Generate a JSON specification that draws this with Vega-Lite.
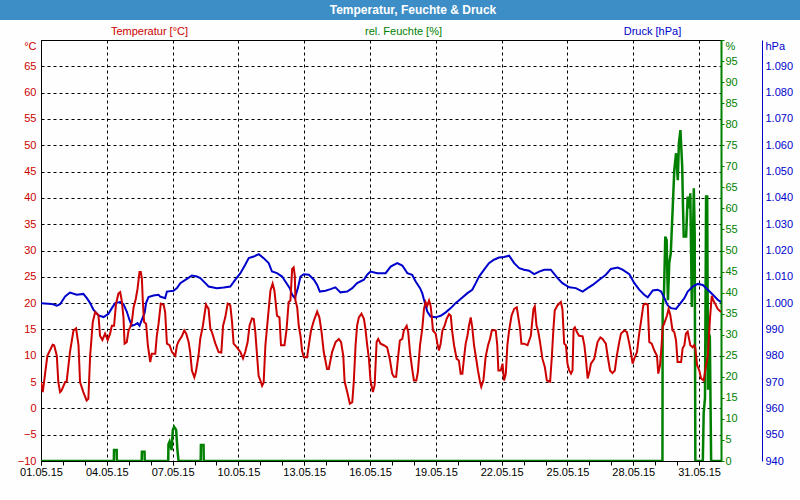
{
  "$schema": "https://vega.github.io/schema/vega-lite/v6.json",
  "background": "#fdfefd",
  "padding": {"left": 0, "right": 0, "top": 0, "bottom": 20},
  "config": {
    "font": "Liberation Sans",
    "axis": {"labelFont": "Liberation Sans", "titleFont": "Liberation Sans", "labelFontSize": 11, "titleFontSize": 11, "titleFontWeight": "normal", "labelOverlap": false}
  },
  "datasets": {
    "temperature": [
      {"time":"2015-05-01T00:00","value":5.0},{"time":"2015-05-01T01:55","value":3.1},{"time":"2015-05-01T06:58","value":10.0},{"time":"2015-05-01T12:43","value":12.1},{"time":"2015-05-01T14:24","value":12.0},{"time":"2015-05-01T17:17","value":10.0},{"time":"2015-05-01T18:58","value":5.0},{"time":"2015-05-01T20:53","value":3.1},{"time":"2015-05-01T22:34","value":3.4},
      {"time":"2015-05-02T02:24","value":5.0},{"time":"2015-05-02T04:05","value":5.1},{"time":"2015-05-02T07:41","value":10.7},{"time":"2015-05-02T11:31","value":14.8},{"time":"2015-05-02T14:24","value":15.2},{"time":"2015-05-02T17:02","value":12.0},{"time":"2015-05-02T18:43","value":5.0},{"time":"2015-05-02T22:19","value":3.1},
      {"time":"2015-05-03T01:55","value":1.5},{"time":"2015-05-03T03:50","value":1.8},{"time":"2015-05-03T05:46","value":10.0},{"time":"2015-05-03T08:38","value":16.4},{"time":"2015-05-03T11:17","value":18.3},{"time":"2015-05-03T14:53","value":17.7},{"time":"2015-05-03T16:34","value":13.8},{"time":"2015-05-03T19:12","value":13.0},{"time":"2015-05-03T22:05","value":14.2},
      {"time":"2015-05-04T00:58","value":13.0},{"time":"2015-05-04T03:36","value":14.2},{"time":"2015-05-04T05:31","value":15.7},{"time":"2015-05-04T07:55","value":15.7},{"time":"2015-05-04T10:05","value":19.9},{"time":"2015-05-04T12:43","value":21.8},{"time":"2015-05-04T14:38","value":22.1},{"time":"2015-05-04T16:19","value":20.5},{"time":"2015-05-04T18:14","value":17.3},{"time":"2015-05-04T19:26","value":12.3},{"time":"2015-05-04T21:50","value":12.6},{"time":"2015-05-04T23:46","value":14.8},
      {"time":"2015-05-05T01:26","value":15.4},{"time":"2015-05-05T03:22","value":16.4},{"time":"2015-05-05T05:17","value":19.2},{"time":"2015-05-05T07:41","value":20.8},{"time":"2015-05-05T09:36","value":22.7},{"time":"2015-05-05T11:46","value":25.9},{"time":"2015-05-05T13:12","value":25.9},{"time":"2015-05-05T14:24","value":24.6},{"time":"2015-05-05T15:22","value":20.5},{"time":"2015-05-05T16:48","value":16.4},{"time":"2015-05-05T18:58","value":16.1},{"time":"2015-05-05T20:53","value":12.0},{"time":"2015-05-05T23:31","value":8.8},
      {"time":"2015-05-06T01:12","value":10.4},{"time":"2015-05-06T05:02","value":10.4},{"time":"2015-05-06T06:43","value":13.8},{"time":"2015-05-06T08:38","value":16.1},{"time":"2015-05-06T11:02","value":19.9},{"time":"2015-05-06T14:10","value":19.7},{"time":"2015-05-06T15:50","value":18.3},{"time":"2015-05-06T17:46","value":12.3},{"time":"2015-05-06T20:38","value":12.0},{"time":"2015-05-06T23:17","value":10.7},
      {"time":"2015-05-07T02:53","value":10.0},{"time":"2015-05-07T04:48","value":12.0},{"time":"2015-05-07T06:29","value":12.7},{"time":"2015-05-07T10:05","value":13.7},{"time":"2015-05-07T12:43","value":14.8},{"time":"2015-05-07T14:53","value":14.2},{"time":"2015-05-07T17:31","value":12.6},{"time":"2015-05-07T19:12","value":10.7},{"time":"2015-05-07T21:07","value":7.2},{"time":"2015-05-07T23:46","value":5.9},
      {"time":"2015-05-08T01:26","value":6.9},{"time":"2015-05-08T04:19","value":10.0},{"time":"2015-05-08T06:14","value":13.2},{"time":"2015-05-08T09:07","value":15.7},{"time":"2015-05-08T12:29","value":19.7},{"time":"2015-05-08T15:22","value":18.9},{"time":"2015-05-08T17:17","value":15.1},{"time":"2015-05-08T18:58","value":14.5},{"time":"2015-05-08T22:48","value":12.3},
      {"time":"2015-05-09T02:24","value":10.7},{"time":"2015-05-09T05:17","value":10.6},{"time":"2015-05-09T07:12","value":15.7},{"time":"2015-05-09T09:36","value":17.3},{"time":"2015-05-09T12:14","value":19.9},{"time":"2015-05-09T15:07","value":19.6},{"time":"2015-05-09T17:02","value":16.4},{"time":"2015-05-09T18:43","value":12.3},{"time":"2015-05-09T22:19","value":11.6},
      {"time":"2015-05-10T02:10","value":10.7},{"time":"2015-05-10T05:02","value":9.5},{"time":"2015-05-10T07:26","value":10.7},{"time":"2015-05-10T10:05","value":12.6},{"time":"2015-05-10T12:14","value":15.8},{"time":"2015-05-10T14:53","value":17.1},{"time":"2015-05-10T16:48","value":17.0},{"time":"2015-05-10T18:29","value":14.5},{"time":"2015-05-10T20:24","value":10.0},{"time":"2015-05-10T22:05","value":6.2},
      {"time":"2015-05-11T00:00","value":5.3},{"time":"2015-05-11T01:55","value":4.3},{"time":"2015-05-11T03:36","value":4.9},{"time":"2015-05-11T05:31","value":12.0},{"time":"2015-05-11T08:10","value":17.0},{"time":"2015-05-11T11:02","value":22.4},{"time":"2015-05-11T13:26","value":23.7},{"time":"2015-05-11T15:22","value":22.4},{"time":"2015-05-11T18:14","value":17.6},{"time":"2015-05-11T20:53","value":17.3},{"time":"2015-05-11T22:34","value":12.0},
      {"time":"2015-05-12T02:24","value":12.0},{"time":"2015-05-12T04:34","value":14.8},{"time":"2015-05-12T06:58","value":20.2},{"time":"2015-05-12T08:53","value":20.5},{"time":"2015-05-12T10:48","value":26.5},{"time":"2015-05-12T12:29","value":26.8},{"time":"2015-05-12T13:41","value":25.2},{"time":"2015-05-12T14:24","value":20.5},{"time":"2015-05-12T16:19","value":19.2},{"time":"2015-05-12T18:00","value":15.7},{"time":"2015-05-12T19:55","value":13.8},{"time":"2015-05-12T21:36","value":11.0},{"time":"2015-05-12T23:31","value":9.7},
      {"time":"2015-05-13T03:07","value":9.7},{"time":"2015-05-13T05:02","value":12.0},{"time":"2015-05-13T07:26","value":14.8},{"time":"2015-05-13T10:34","value":16.7},{"time":"2015-05-13T14:10","value":18.4},{"time":"2015-05-13T16:34","value":17.3},{"time":"2015-05-13T18:58","value":14.5},{"time":"2015-05-13T21:22","value":10.7},
      {"time":"2015-05-14T00:58","value":7.5},{"time":"2015-05-14T02:53","value":7.5},{"time":"2015-05-14T06:29","value":10.7},{"time":"2015-05-14T10:19","value":12.6},{"time":"2015-05-14T13:55","value":13.2},{"time":"2015-05-14T16:19","value":12.6},{"time":"2015-05-14T18:43","value":10.0},{"time":"2015-05-14T20:10","value":5.1},{"time":"2015-05-14T23:02","value":3.1},
      {"time":"2015-05-15T01:55","value":0.9},{"time":"2015-05-15T04:34","value":1.2},{"time":"2015-05-15T06:14","value":5.1},{"time":"2015-05-15T08:10","value":12.0},{"time":"2015-05-15T09:50","value":15.7},{"time":"2015-05-15T11:46","value":17.3},{"time":"2015-05-15T14:38","value":18.0},{"time":"2015-05-15T17:17","value":17.0},{"time":"2015-05-15T18:58","value":15.1},{"time":"2015-05-15T20:53","value":12.0},{"time":"2015-05-15T22:48","value":9.4},
      {"time":"2015-05-16T00:29","value":5.3},{"time":"2015-05-16T03:07","value":3.1},{"time":"2015-05-16T05:02","value":4.4},{"time":"2015-05-16T07:12","value":12.6},{"time":"2015-05-16T08:53","value":13.2},{"time":"2015-05-16T11:31","value":12.3},{"time":"2015-05-16T15:07","value":12.0},{"time":"2015-05-16T18:43","value":11.6},{"time":"2015-05-16T21:36","value":9.4},
      {"time":"2015-05-17T00:14","value":6.6},{"time":"2015-05-17T02:10","value":6.0},{"time":"2015-05-17T04:34","value":6.0},{"time":"2015-05-17T06:29","value":9.4},{"time":"2015-05-17T08:38","value":12.9},{"time":"2015-05-17T11:17","value":13.2},{"time":"2015-05-17T12:58","value":14.8},{"time":"2015-05-17T16:05","value":15.7},{"time":"2015-05-17T17:46","value":14.5},{"time":"2015-05-17T19:41","value":10.7},{"time":"2015-05-17T22:05","value":7.5},
      {"time":"2015-05-18T00:00","value":5.3},{"time":"2015-05-18T02:38","value":5.3},{"time":"2015-05-18T04:19","value":6.9},{"time":"2015-05-18T06:43","value":12.0},{"time":"2015-05-18T09:07","value":15.1},{"time":"2015-05-18T11:02","value":18.9},{"time":"2015-05-18T12:43","value":20.2},{"time":"2015-05-18T14:38","value":19.5},{"time":"2015-05-18T16:34","value":20.5},{"time":"2015-05-18T18:14","value":19.5},{"time":"2015-05-18T19:26","value":17.6},{"time":"2015-05-18T20:53","value":14.8},{"time":"2015-05-18T23:46","value":14.2},
      {"time":"2015-05-19T01:41","value":12.3},{"time":"2015-05-19T03:22","value":11.0},{"time":"2015-05-19T05:17","value":12.3},{"time":"2015-05-19T07:12","value":14.8},{"time":"2015-05-19T09:36","value":15.7},{"time":"2015-05-19T11:46","value":17.0},{"time":"2015-05-19T14:24","value":17.9},{"time":"2015-05-19T16:19","value":17.6},{"time":"2015-05-19T18:00","value":14.5},{"time":"2015-05-19T19:55","value":12.0},{"time":"2015-05-19T22:48","value":9.4},
      {"time":"2015-05-20T01:12","value":9.1},{"time":"2015-05-20T03:07","value":6.6},{"time":"2015-05-20T05:02","value":6.6},{"time":"2015-05-20T06:43","value":9.4},{"time":"2015-05-20T08:38","value":12.3},{"time":"2015-05-20T10:34","value":13.8},{"time":"2015-05-20T12:14","value":15.7},{"time":"2015-05-20T14:10","value":17.3},{"time":"2015-05-20T15:50","value":15.4},{"time":"2015-05-20T17:46","value":12.0},{"time":"2015-05-20T20:24","value":9.1},{"time":"2015-05-20T22:05","value":7.2},
      {"time":"2015-05-21T00:14","value":5.1},{"time":"2015-05-21T01:41","value":4.1},{"time":"2015-05-21T04:05","value":5.4},{"time":"2015-05-21T06:29","value":9.8},{"time":"2015-05-21T09:07","value":12.0},{"time":"2015-05-21T11:17","value":13.2},{"time":"2015-05-21T13:12","value":14.8},{"time":"2015-05-21T15:36","value":14.9},{"time":"2015-05-21T17:31","value":14.8},{"time":"2015-05-21T19:12","value":12.0},{"time":"2015-05-21T20:24","value":7.2},{"time":"2015-05-21T23:02","value":7.2},
      {"time":"2015-05-22T00:58","value":8.5},{"time":"2015-05-22T02:38","value":5.3},{"time":"2015-05-22T04:34","value":6.6},{"time":"2015-05-22T06:14","value":12.0},{"time":"2015-05-22T08:10","value":14.8},{"time":"2015-05-22T10:48","value":17.6},{"time":"2015-05-22T13:41","value":18.9},{"time":"2015-05-22T16:34","value":19.2},{"time":"2015-05-22T18:29","value":17.0},{"time":"2015-05-22T20:10","value":15.1},{"time":"2015-05-22T21:36","value":12.3},
      {"time":"2015-05-23T00:29","value":12.3},{"time":"2015-05-23T04:19","value":12.0},{"time":"2015-05-23T07:55","value":13.8},{"time":"2015-05-23T10:48","value":18.9},{"time":"2015-05-23T12:14","value":19.4},{"time":"2015-05-23T14:10","value":15.7},{"time":"2015-05-23T15:50","value":14.8},{"time":"2015-05-23T18:00","value":12.6},{"time":"2015-05-23T20:38","value":9.4},{"time":"2015-05-23T23:17","value":7.8},
      {"time":"2015-05-24T01:26","value":5.3},{"time":"2015-05-24T05:02","value":5.1},{"time":"2015-05-24T06:58","value":10.0},{"time":"2015-05-24T08:38","value":15.1},{"time":"2015-05-24T10:05","value":18.6},{"time":"2015-05-24T13:12","value":19.6},{"time":"2015-05-24T16:48","value":20.2},{"time":"2015-05-24T18:29","value":18.9},{"time":"2015-05-24T20:24","value":12.3},{"time":"2015-05-24T22:19","value":12.0},
      {"time":"2015-05-25T00:00","value":8.5},{"time":"2015-05-25T01:55","value":7.2},{"time":"2015-05-25T03:50","value":6.6},{"time":"2015-05-25T05:31","value":7.2},{"time":"2015-05-25T06:43","value":15.1},{"time":"2015-05-25T08:10","value":15.4},{"time":"2015-05-25T10:19","value":14.5},{"time":"2015-05-25T12:43","value":13.8},{"time":"2015-05-25T16:34","value":13.7},{"time":"2015-05-25T18:29","value":12.0},{"time":"2015-05-25T20:10","value":9.4},{"time":"2015-05-25T22:05","value":5.7},
      {"time":"2015-05-26T00:00","value":6.9},{"time":"2015-05-26T01:41","value":8.5},{"time":"2015-05-26T05:17","value":9.4},{"time":"2015-05-26T08:53","value":12.6},{"time":"2015-05-26T12:00","value":13.5},{"time":"2015-05-26T14:24","value":13.2},{"time":"2015-05-26T18:00","value":12.3},{"time":"2015-05-26T19:55","value":10.0},{"time":"2015-05-26T22:34","value":7.2},
      {"time":"2015-05-27T01:12","value":6.7},{"time":"2015-05-27T03:50","value":7.2},{"time":"2015-05-27T06:00","value":10.0},{"time":"2015-05-27T08:38","value":12.6},{"time":"2015-05-27T10:34","value":14.2},{"time":"2015-05-27T14:10","value":14.8},{"time":"2015-05-27T17:02","value":14.5},{"time":"2015-05-27T19:41","value":12.3},{"time":"2015-05-27T21:22","value":10.7},{"time":"2015-05-27T23:17","value":8.5},
      {"time":"2015-05-28T00:58","value":9.4},{"time":"2015-05-28T04:05","value":10.7},{"time":"2015-05-28T06:29","value":14.2},{"time":"2015-05-28T08:24","value":16.4},{"time":"2015-05-28T11:02","value":19.6},{"time":"2015-05-28T12:58","value":19.9},{"time":"2015-05-28T15:50","value":19.7},{"time":"2015-05-28T17:31","value":12.6},{"time":"2015-05-28T20:10","value":12.3},{"time":"2015-05-28T23:02","value":11.0},
      {"time":"2015-05-29T01:55","value":10.0},{"time":"2015-05-29T03:22","value":6.6},{"time":"2015-05-29T05:17","value":8.2},{"time":"2015-05-29T06:58","value":12.0},{"time":"2015-05-29T08:10","value":15.5},{"time":"2015-05-29T09:50","value":16.1},{"time":"2015-05-29T12:58","value":17.7},{"time":"2015-05-29T14:38","value":18.9},{"time":"2015-05-29T16:34","value":17.7},{"time":"2015-05-29T18:58","value":14.8},{"time":"2015-05-29T20:53","value":14.5},{"time":"2015-05-29T22:48","value":12.9},
      {"time":"2015-05-30T00:29","value":8.8},{"time":"2015-05-30T04:19","value":8.8},{"time":"2015-05-30T06:00","value":11.4},{"time":"2015-05-30T07:55","value":12.0},{"time":"2015-05-30T09:36","value":14.2},{"time":"2015-05-30T11:31","value":14.6},{"time":"2015-05-30T12:43","value":13.5},{"time":"2015-05-30T14:24","value":12.0},{"time":"2015-05-30T17:02","value":11.6},{"time":"2015-05-30T18:43","value":12.0},{"time":"2015-05-30T19:55","value":11.4},{"time":"2015-05-30T21:50","value":8.2},
      {"time":"2015-05-31T00:14","value":7.2},{"time":"2015-05-31T02:10","value":5.7},{"time":"2015-05-31T05:02","value":5.3},{"time":"2015-05-31T07:41","value":8.2},{"time":"2015-05-31T09:36","value":10.0},{"time":"2015-05-31T12:00","value":17.3},{"time":"2015-05-31T13:55","value":21.4},{"time":"2015-05-31T15:36","value":20.5},{"time":"2015-05-31T17:31","value":19.9},{"time":"2015-05-31T20:24","value":18.9},{"time":"2015-05-31T23:59","value":18.3}
    ],
    "humidity": [
      {"time":"2015-05-01T00:00","value":0},{"time":"2015-05-04T07:41","value":0},{"time":"2015-05-04T07:55","value":2.6},{"time":"2015-05-04T10:48","value":2.6},{"time":"2015-05-04T11:02","value":0},
      {"time":"2015-05-05T14:10","value":0},{"time":"2015-05-05T14:24","value":2.2},{"time":"2015-05-05T17:17","value":2.2},{"time":"2015-05-05T17:31","value":0},
      {"time":"2015-05-06T19:12","value":0},{"time":"2015-05-06T19:26","value":4.0},{"time":"2015-05-06T20:38","value":4.6},{"time":"2015-05-06T22:48","value":2.6},{"time":"2015-05-07T00:14","value":7.4},{"time":"2015-05-07T01:41","value":8.1},{"time":"2015-05-07T03:50","value":7.4},{"time":"2015-05-07T05:17","value":2.6},{"time":"2015-05-07T06:29","value":0},
      {"time":"2015-05-08T06:43","value":0},{"time":"2015-05-08T06:58","value":3.8},{"time":"2015-05-08T09:50","value":3.8},{"time":"2015-05-08T10:05","value":0},
      {"time":"2015-05-29T07:55","value":0},{"time":"2015-05-29T08:10","value":36.6},{"time":"2015-05-29T09:36","value":39.9},{"time":"2015-05-29T11:02","value":53.3},{"time":"2015-05-29T12:29","value":52.5},{"time":"2015-05-29T13:55","value":38.2},{"time":"2015-05-29T15:22","value":47.0},{"time":"2015-05-29T17:02","value":49.4},{"time":"2015-05-29T19:12","value":60.4},{"time":"2015-05-29T20:53","value":69.1},{"time":"2015-05-29T22:48","value":73.1},
      {"time":"2015-05-30T00:43","value":66.7},{"time":"2015-05-30T01:55","value":75.5},{"time":"2015-05-30T03:36","value":78.6},{"time":"2015-05-30T05:31","value":70.0},{"time":"2015-05-30T06:14","value":62.0},{"time":"2015-05-30T07:12","value":53.3},{"time":"2015-05-30T09:50","value":53.3},{"time":"2015-05-30T11:31","value":62.8},{"time":"2015-05-30T13:26","value":60.0},{"time":"2015-05-30T14:24","value":63.6},{"time":"2015-05-30T16:05","value":36.6},{"time":"2015-05-30T18:14","value":64.8},{"time":"2015-05-30T19:12","value":54.0},{"time":"2015-05-30T19:55","value":0},
      {"time":"2015-05-31T04:05","value":0},{"time":"2015-05-31T05:02","value":11.4},{"time":"2015-05-31T06:29","value":15.0},{"time":"2015-05-31T07:41","value":62.8},{"time":"2015-05-31T08:53","value":62.8},{"time":"2015-05-31T09:50","value":16.9},{"time":"2015-05-31T10:34","value":30.4},{"time":"2015-05-31T11:46","value":29.5},{"time":"2015-05-31T13:12","value":0},{"time":"2015-05-31T23:59","value":0}
    ],
    "pressure": [
      {"time":"2015-05-01T00:00","value":1000.0},{"time":"2015-05-01T11:46","value":999.7},{"time":"2015-05-01T17:17","value":999.0},{"time":"2015-05-01T20:53","value":999.6},
      {"time":"2015-05-02T02:24","value":1002.5},{"time":"2015-05-02T07:41","value":1004.0},{"time":"2015-05-02T15:07","value":1003.2},{"time":"2015-05-02T22:19","value":1003.5},
      {"time":"2015-05-03T02:10","value":1001.9},{"time":"2015-05-03T05:46","value":1000.0},{"time":"2015-05-03T09:22","value":997.5},{"time":"2015-05-03T14:53","value":995.3},{"time":"2015-05-03T20:24","value":994.7},
      {"time":"2015-05-04T01:41","value":995.9},{"time":"2015-05-04T05:31","value":998.1},{"time":"2015-05-04T09:07","value":1000.0},{"time":"2015-05-04T14:38","value":1000.4},{"time":"2015-05-04T18:14","value":999.6},{"time":"2015-05-04T21:50","value":996.8},
      {"time":"2015-05-05T00:43","value":993.7},{"time":"2015-05-05T03:22","value":991.4},{"time":"2015-05-05T06:58","value":991.8},{"time":"2015-05-05T09:36","value":992.4},{"time":"2015-05-05T11:46","value":991.4},{"time":"2015-05-05T14:24","value":993.7},{"time":"2015-05-05T17:17","value":996.2},{"time":"2015-05-05T18:58","value":1000.0},{"time":"2015-05-05T21:36","value":1002.3},
      {"time":"2015-05-06T03:07","value":1002.9},{"time":"2015-05-06T08:38","value":1003.2},{"time":"2015-05-06T10:19","value":1002.5},{"time":"2015-05-06T15:50","value":1001.9},{"time":"2015-05-06T17:46","value":1004.4},
      {"time":"2015-05-07T00:58","value":1004.7},{"time":"2015-05-07T04:48","value":1005.7},{"time":"2015-05-07T08:24","value":1007.6},{"time":"2015-05-07T15:36","value":1009.2},{"time":"2015-05-07T21:07","value":1010.5},
      {"time":"2015-05-08T02:38","value":1010.1},{"time":"2015-05-08T06:14","value":1009.5},{"time":"2015-05-08T11:46","value":1007.6},{"time":"2015-05-08T15:22","value":1006.3},
      {"time":"2015-05-09T00:29","value":1005.7},{"time":"2015-05-09T07:55","value":1005.9},{"time":"2015-05-09T15:07","value":1006.3},{"time":"2015-05-09T20:38","value":1008.9},
      {"time":"2015-05-10T02:10","value":1011.4},{"time":"2015-05-10T07:26","value":1014.6},{"time":"2015-05-10T11:17","value":1017.1},{"time":"2015-05-10T16:48","value":1017.7},{"time":"2015-05-10T22:19","value":1018.6},
      {"time":"2015-05-11T03:36","value":1017.1},{"time":"2015-05-11T09:07","value":1015.2},{"time":"2015-05-11T12:43","value":1012.0},{"time":"2015-05-11T18:14","value":1011.4},{"time":"2015-05-11T23:46","value":1010.1},
      {"time":"2015-05-12T03:22","value":1008.2},{"time":"2015-05-12T08:10","value":1005.7},{"time":"2015-05-12T10:48","value":1003.2},{"time":"2015-05-12T13:41","value":1001.9},{"time":"2015-05-12T17:02","value":1005.7},{"time":"2015-05-12T19:55","value":1010.1},{"time":"2015-05-12T23:31","value":1011.0},
      {"time":"2015-05-13T05:02","value":1010.8},{"time":"2015-05-13T10:34","value":1008.9},{"time":"2015-05-13T14:10","value":1006.9},{"time":"2015-05-13T17:02","value":1004.4},{"time":"2015-05-13T23:17","value":1004.7},
      {"time":"2015-05-14T04:48","value":1005.3},{"time":"2015-05-14T10:05","value":1006.0},{"time":"2015-05-14T15:36","value":1004.1},{"time":"2015-05-14T23:02","value":1004.4},
      {"time":"2015-05-15T04:34","value":1005.7},{"time":"2015-05-15T09:50","value":1007.6},{"time":"2015-05-15T17:17","value":1008.9},{"time":"2015-05-15T20:53","value":1010.8},
      {"time":"2015-05-16T00:29","value":1012.0},{"time":"2015-05-16T07:55","value":1011.4},{"time":"2015-05-16T17:02","value":1011.4},{"time":"2015-05-16T22:34","value":1013.9},
      {"time":"2015-05-17T05:46","value":1015.2},{"time":"2015-05-17T11:17","value":1014.3},{"time":"2015-05-17T16:48","value":1011.4},{"time":"2015-05-17T22:05","value":1010.8},
      {"time":"2015-05-18T01:55","value":1008.2},{"time":"2015-05-18T06:43","value":1005.7},{"time":"2015-05-18T09:07","value":1003.8},{"time":"2015-05-18T11:02","value":1001.3},{"time":"2015-05-18T14:38","value":996.8},{"time":"2015-05-18T18:14","value":994.9},{"time":"2015-05-18T23:46","value":994.6},
      {"time":"2015-05-19T05:17","value":995.2},{"time":"2015-05-19T10:48","value":996.5},{"time":"2015-05-19T16:19","value":998.1},{"time":"2015-05-19T21:36","value":1000.0},
      {"time":"2015-05-20T03:07","value":1001.6},{"time":"2015-05-20T10:34","value":1003.8},{"time":"2015-05-20T15:50","value":1005.1},{"time":"2015-05-20T19:41","value":1007.6},{"time":"2015-05-20T23:17","value":1010.1},
      {"time":"2015-05-21T04:48","value":1012.7},{"time":"2015-05-21T10:05","value":1015.2},{"time":"2015-05-21T15:36","value":1016.5},{"time":"2015-05-21T21:07","value":1017.3},
      {"time":"2015-05-22T02:38","value":1017.5},{"time":"2015-05-22T08:10","value":1018.0},{"time":"2015-05-22T13:41","value":1015.2},{"time":"2015-05-22T19:12","value":1013.3},
      {"time":"2015-05-23T00:29","value":1012.7},{"time":"2015-05-23T06:00","value":1012.3},{"time":"2015-05-23T11:31","value":1011.0},{"time":"2015-05-23T17:02","value":1012.0},{"time":"2015-05-23T22:34","value":1012.7},
      {"time":"2015-05-24T05:46","value":1012.7},{"time":"2015-05-24T13:12","value":1009.5},{"time":"2015-05-24T18:29","value":1007.6},
      {"time":"2015-05-25T01:55","value":1006.0},{"time":"2015-05-25T09:07","value":1005.7},{"time":"2015-05-25T16:34","value":1004.4},{"time":"2015-05-25T22:05","value":1005.7},
      {"time":"2015-05-26T03:36","value":1006.9},{"time":"2015-05-26T10:48","value":1008.9},{"time":"2015-05-26T18:00","value":1010.8},{"time":"2015-05-26T23:31","value":1013.0},
      {"time":"2015-05-27T06:58","value":1013.5},{"time":"2015-05-27T12:14","value":1012.7},{"time":"2015-05-27T19:41","value":1011.0},
      {"time":"2015-05-28T01:12","value":1007.6},{"time":"2015-05-28T06:29","value":1005.1},{"time":"2015-05-28T12:00","value":1003.2},{"time":"2015-05-28T15:50","value":1002.2},{"time":"2015-05-28T21:22","value":1004.8},
      {"time":"2015-05-29T02:38","value":1005.1},{"time":"2015-05-29T06:29","value":1004.4},{"time":"2015-05-29T10:05","value":1001.9},{"time":"2015-05-29T13:41","value":999.1},{"time":"2015-05-29T17:17","value":998.1},{"time":"2015-05-29T22:48","value":997.8},
      {"time":"2015-05-30T02:24","value":999.4},{"time":"2015-05-30T07:55","value":1001.9},{"time":"2015-05-30T11:31","value":1004.4},{"time":"2015-05-30T17:02","value":1006.3},{"time":"2015-05-30T22:34","value":1007.3},
      {"time":"2015-05-31T04:05","value":1006.9},{"time":"2015-05-31T09:36","value":1005.1},{"time":"2015-05-31T15:07","value":1003.2},{"time":"2015-05-31T20:24","value":1001.3},{"time":"2015-05-31T23:59","value":1000.4}
    ]
  },
  "vconcat": [
    {
      "width": 800,
      "height": 20,
      "view": {"fill": "#3d8ec6", "stroke": null},
      "data": {"values": [{"title": "Temperatur, Feuchte & Druck"}]},
      "mark": {"type": "text", "color": "#ffffff", "font": "Liberation Sans", "fontSize": 12, "fontWeight": "bold", "dx": 13, "baseline": "middle", "align": "center"},
      "encoding": {"text": {"field": "title", "type": "nominal"}}
    },
    {
      "bounds": "flush",
      "spacing": 0,
      "hconcat": [
        {
          "width": 41,
          "height": 421,
          "view": {"stroke": null},
          "data": {"values": [{"s": 0}]},
          "mark": {"type": "point", "opacity": 0},
          "encoding": {}
        },
        {
          "width": 680,
          "height": 421,
          "view": {"stroke": "#000000", "strokeWidth": 1},
          "resolve": {"scale": {"y": "independent"}, "axis": {"x": "independent", "y": "independent"}},
          "layer": [
            {
              "data": {"name": "humidity"},
              "mark": {"type": "line", "color": "#008000", "strokeWidth": 2.5, "clip": true},
              "encoding": {
                "x": {"field": "time", "type": "temporal",
                  "scale": {"domain": [{"year": 2015, "month": 5, "date": 1, "hours": 0}, {"year": 2015, "month": 5, "date": 31, "hours": 23, "minutes": 59}]},
                  "axis": {"orient": "bottom", "tickCount": {"interval": "day", "step": 1}, "labels": false, "grid": false, "domain": false, "ticks": true, "tickSize": 4, "tickColor": "#000000", "title": null}},
                "y": {"field": "value", "type": "quantitative",
                  "scale": {"domain": [0, 100], "nice": false, "zero": false},
                  "axis": {"orient": "right", "values": [0,5,10,15,20,25,30,35,40,45,50,55,60,65,70,75,80,85,90,95,100],
                    "grid": false, "domain": true, "domainColor": "#008000", "domainWidth": 2, "ticks": true, "tickColor": "#008000", "tickSize": 3,
                    "labelColor": "#008000", "labelPadding": 1,
                    "labelExpr": "datum.value == 100 ? '%' : datum.label",
                    "labelBaseline": {"condition": {"test": "datum.value == 100", "value": "top"}, "value": "middle"},
                    "title": "rel. Feuchte [%]", "titleColor": "#008000", "titleAngle": 0, "titleX": -318, "titleY": -9, "titleAlign": "center", "titleBaseline": "middle"}}
              }
            },
            {
              "data": {"name": "pressure"},
              "mark": {"type": "line", "color": "#0000cc", "strokeWidth": 2, "clip": true},
              "encoding": {
                "x": {"field": "time", "type": "temporal",
                  "scale": {"domain": [{"year": 2015, "month": 5, "date": 1, "hours": 0}, {"year": 2015, "month": 5, "date": 31, "hours": 23, "minutes": 59}]},
                  "axis": null},
                "y": {"field": "value", "type": "quantitative",
                  "scale": {"domain": [940, 1100], "nice": false, "zero": false},
                  "axis": {"orient": "right", "offset": 41, "values": [940,950,960,970,980,990,1000,1010,1020,1030,1040,1050,1060,1070,1080,1090,1100],
                    "grid": false, "domain": true, "domainColor": "#0000cc", "domainWidth": 1, "ticks": false,
                    "labelColor": "#0000cc", "labelPadding": 3,
                    "labelExpr": "datum.value == 1100 ? 'hPa' : (datum.value >= 1000 ? '1.' + format(datum.value - 1000, '03d') : format(datum.value, 'd'))",
                    "labelBaseline": {"condition": {"test": "datum.value == 1100", "value": "top"}, "value": "middle"},
                    "title": "Druck [hPa]", "titleColor": "#0000cc", "titleAngle": 0, "titleX": -110, "titleY": -9, "titleAlign": "center", "titleBaseline": "middle"}}
              }
            },
            {
              "data": {"name": "temperature"},
              "mark": {"type": "line", "color": "#cc0000", "strokeWidth": 2, "clip": true},
              "encoding": {
                "x": {"field": "time", "type": "temporal",
                  "scale": {"domain": [{"year": 2015, "month": 5, "date": 1, "hours": 0}, {"year": 2015, "month": 5, "date": 31, "hours": 23, "minutes": 59}]},
                  "axis": {"orient": "bottom", "format": "%d.%m.%y", "tickCount": {"interval": "day", "step": 3}, "grid": true, "gridColor": "#000000", "gridDash": [3, 3], "gridWidth": 1, "gridOpacity": 1,
                    "domain": false, "ticks": true, "tickSize": 4, "tickColor": "#000000", "labelColor": "#000000", "labelPadding": 1, "labelFlush": false, "title": null}},
                "y": {"field": "value", "type": "quantitative",
                  "scale": {"domain": [-10, 70], "nice": false, "zero": false},
                  "axis": {"orient": "left", "values": [-10,-5,0,5,10,15,20,25,30,35,40,45,50,55,60,65,70],
                    "grid": true, "gridColor": "#000000", "gridDash": [3, 3], "gridWidth": 1, "gridOpacity": 1,
                    "domain": false, "ticks": false, "labelColor": "#cc0000", "labelPadding": 5,
                    "labelExpr": "datum.value == 70 ? '°C' : datum.label",
                    "labelBaseline": {"condition": {"test": "datum.value == 70", "value": "top"}, "value": "middle"},
                    "title": "Temperatur [°C]", "titleColor": "#cc0000", "titleAngle": 0, "titleX": 108, "titleY": -9, "titleAlign": "center", "titleBaseline": "middle"}}
              }
            }
          ]
        }
      ]
    }
  ],
  "bounds": "flush",
  "spacing": 20
}
